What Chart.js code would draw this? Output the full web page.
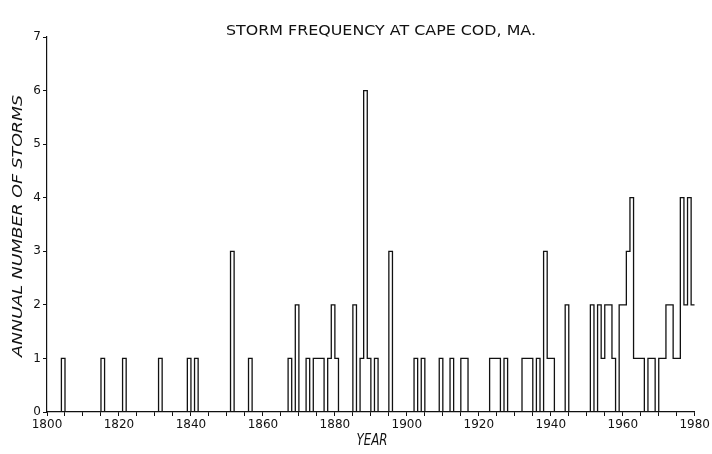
<!DOCTYPE html>
<html>
<head>
<meta charset="utf-8">
<script src="https://cdn.jsdelivr.net/npm/chart.js@4.4.0/dist/chart.umd.min.js"></script>
<style>
  html, body { margin: 0; padding: 0; background: #fff; }
  #wrap { width: 712px; height: 454px; }
</style>
</head>
<body>
<div id="wrap"><canvas id="stormChart"></canvas></div>
<script>
// Annual number of storms, one value per year
const firstYear = 1800;
const annualStorms = [
    0, 0, 0, 0, 1, 0, 0, 0, 0, 0,   // 1800s
    0, 0, 0, 0, 0, 1, 0, 0, 0, 0,   // 1810s
    0, 1, 0, 0, 0, 0, 0, 0, 0, 0,   // 1820s
    0, 1, 0, 0, 0, 0, 0, 0, 0, 1,   // 1830s
    0, 1, 0, 0, 0, 0, 0, 0, 0, 0,   // 1840s
    0, 3, 0, 0, 0, 0, 1, 0, 0, 0,   // 1850s
    0, 0, 0, 0, 0, 0, 0, 1, 0, 2,   // 1860s
    0, 0, 1, 0, 1, 1, 1, 0, 1, 2,   // 1870s
    1, 0, 0, 0, 0, 2, 0, 1, 6, 1,   // 1880s
    0, 1, 0, 0, 0, 3, 0, 0, 0, 0,   // 1890s
    0, 0, 1, 0, 1, 0, 0, 0, 0, 1,   // 1900s
    0, 0, 1, 0, 0, 1, 1, 0, 0, 0,   // 1910s
    0, 0, 0, 1, 1, 1, 0, 1, 0, 0,   // 1920s
    0, 0, 1, 1, 1, 0, 1, 0, 3, 1,   // 1930s
    1, 0, 0, 0, 2, 0, 0, 0, 0, 0,   // 1940s
    0, 2, 0, 2, 1, 2, 2, 1, 0, 2,   // 1950s
    2, 3, 4, 1, 1, 1, 0, 1, 1, 0,   // 1960s
    1, 1, 2, 2, 1, 1, 4, 2, 4, 2    // 1970s
];
const yearLabels = [1800, 1820, 1840, 1860, 1880, 1900, 1920, 1940, 1960, 1980];
const countLabels = [0, 1, 2, 3, 4, 5, 6, 7];

const titleText = 'STORM FREQUENCY AT CAPE COD, MA.';
const xTitle = 'YEAR';
const yTitle = 'ANNUAL NUMBER OF STORMS';

// step line: one point per year plus a closing point at the end of the last year
const points = annualStorms.map((v, i) => ({ x: firstYear + i, y: v }));
points.push({ x: firstYear + annualStorms.length, y: annualStorms[annualStorms.length - 1] });

// draw text squeezed/stretched to the width it has in the figure
function drawFitted(ctx, text, font, width) {
    ctx.font = font;
    const w = ctx.measureText(text).width;
    ctx.scale(width / w, 1);
    ctx.fillText(text, 0, 0);
}

const figureText = {
    id: 'figureText',
    afterDraw(chart) {
        const ctx = chart.ctx;
        ctx.fillStyle = '#111';
        ctx.textAlign = 'center';
        ctx.textBaseline = 'middle';

        ctx.save();
        ctx.translate(381, 31);
        drawFitted(ctx, titleText, '14px "DejaVu Sans"', 310);
        ctx.restore();

        ctx.save();
        ctx.translate(372, 441);
        drawFitted(ctx, xTitle, 'italic 16px "DejaVu Sans"', 31);
        ctx.restore();

        ctx.save();
        ctx.translate(18, 226);
        ctx.rotate(-Math.PI / 2);
        drawFitted(ctx, yTitle, 'italic 14px "DejaVu Sans"', 262);
        ctx.restore();
    }
};

const ctx = document.getElementById('stormChart').getContext('2d');
const stormChart = new Chart(ctx, {
    type: 'line',
    data: {
        datasets: [{
            label: 'Annual number of storms',
            data: points,
            // hold each year's value from that year to the next
            stepped: 'before',
            borderColor: '#111',
            borderWidth: 1.3,
            pointRadius: 0,
            fill: false
        }]
    },
    options: {
        responsive: true,
        maintainAspectRatio: false,
        animation: false,
        layout: {
            padding: { top: 37, right: 15, left: 0, bottom: 0 }
        },
        plugins: {
            legend: { display: false },
            tooltip: { enabled: false }
        },
        scales: {
            x: {
                type: 'linear',
                min: yearLabels[0],
                max: yearLabels[yearLabels.length - 1],
                afterFit: scale => { scale.height = 42; },
                border: { color: '#111', width: 1.2 },
                grid: { drawOnChartArea: false, drawTicks: true, tickLength: 4, color: '#111' },
                ticks: {
                    stepSize: 5,
                    autoSkip: false,
                    maxRotation: 0,
                    padding: 2,
                    color: '#111',
                    font: { family: 'DejaVu Sans', size: 12 },
                    callback: value => yearLabels.includes(value) ? String(value) : ''
                }
            },
            y: {
                min: countLabels[0],
                max: countLabels[countLabels.length - 1],
                afterFit: scale => { scale.width = 47; },
                border: { color: '#111', width: 1.2 },
                grid: { drawOnChartArea: false, drawTicks: true, tickLength: 4, color: '#111' },
                ticks: {
                    stepSize: 1,
                    padding: 2,
                    color: '#111',
                    font: { family: 'DejaVu Sans', size: 12 },
                    callback: value => countLabels.includes(value) ? String(value) : ''
                }
            }
        }
    },
    plugins: [figureText]
});
</script>
</body>
</html>
